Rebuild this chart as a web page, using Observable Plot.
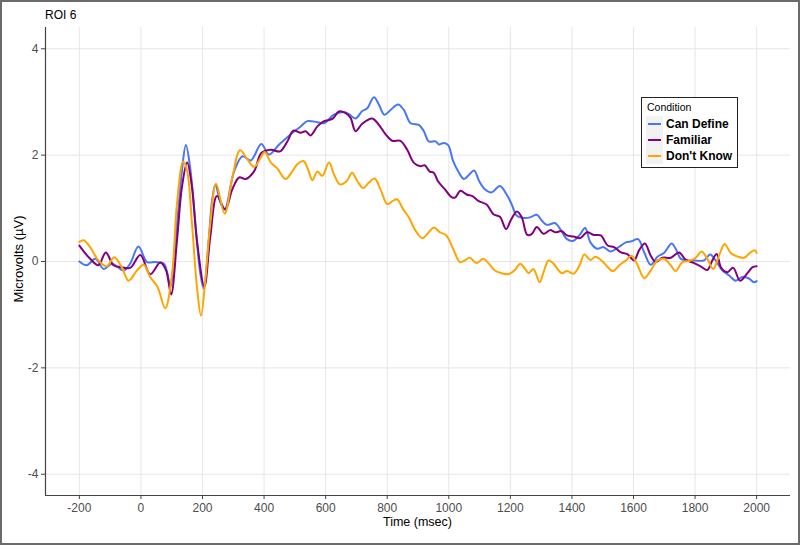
<!DOCTYPE html>
<html>
<head>
<meta charset="utf-8">
<script src="https://cdn.jsdelivr.net/npm/d3@7"></script>
<script src="https://cdn.jsdelivr.net/npm/@observablehq/plot@0.6"></script>
<style>
  html, body { margin: 0; padding: 0; background: #fff; }
  #wrap { position: relative; width: 800px; height: 545px; overflow: hidden; font-family: "Liberation Sans", Arial, sans-serif; }
  #wrap svg { position: absolute; left: 0; top: 0; }
  .border { position: absolute; left: 0; top: 0; width: 800px; height: 545px; box-sizing: border-box; border: 2px solid #6b6b6b; pointer-events: none; }
  .title { position: absolute; left: 45px; top: 8px; font-size: 12px; color: #000; }
  .xlab { position: absolute; left: 45px; width: 745px; top: 515px; text-align: center; font-size: 12.5px; color: #000; }
  .ylab { position: absolute; left: 18px; top: 259px; transform: translate(-50%, -50%) rotate(-90deg); white-space: nowrap; font-size: 13px; color: #000; }
  .legend { position: absolute; left: 641px; top: 97px; width: 97px; height: 71px; box-sizing: border-box; border: 1px solid #222; background: #fff; }
  .legend .lt { position: absolute; left: 5px; top: 3px; font-size: 10.5px; color: #000; }
  .legend .row { position: absolute; left: 4px; height: 16px; display: flex; align-items: center; }
  .legend .key { width: 17px; height: 16px; background: #f2f2f2; position: relative; }
  .legend .key i { position: absolute; left: 2px; right: 2px; top: 7px; height: 2px; }
  .legend .lab { margin-left: 3px; font-size: 12px; font-weight: bold; color: #000; }
</style>
</head>
<body>
<div id="wrap"></div>
<script>
// ---- data ----
const seriesNames = ["Can Define", "Familiar", "Don't Know"];
const seriesColors = ["#4876F5", "#800080", "#FFA500"];

const canDefineTime = [-200,-176,-148,-121,-94,-56,-35,-8,20,47,74,85,95,117,133,146,160,177,193,204,220,231,242,258,272,
  303,330,357,391,416,449,486,519,540,573,595,627,659,676,697,719,735,757,773,791,811,835,854,876,903,919,935,957,
  968,984,998,1014,1030,1049,1066,1082,1099,1117,1139,1166,1188,1204,1221,1242,1264,1286,1302,1318,1346,1362,1384,1405,1425,1443,1460,1482,1503,1525,
  1554,1575,1594,1615,1635,1656,1678,1699,1724,1737,1754,1775,1797,1829,1849,1867,1889,1910,1932,1953,1975,1991,2000];
const canDefineUv = [0,-0.07,0.05,-0.14,-0.04,-0.17,-0.04,0.28,-0.01,-0.01,-0.04,-0.2,-0.48,0.7,1.7,2.19,1.76,0.7,-0.23,-0.51,0.39,1.14,1.45,1.11,0.98,
  1.7,1.98,1.9,2.21,2.01,2.2,2.39,2.54,2.64,2.62,2.6,2.76,2.81,2.77,2.69,2.83,2.88,3.09,2.95,2.76,2.85,2.95,2.85,2.6,2.57,2.45,2.26,2.26,
  2.2,2.23,2.19,1.89,1.7,1.55,1.63,1.71,1.51,1.36,1.3,1.42,1.26,1.08,0.86,0.82,0.83,0.88,0.77,0.69,0.72,0.61,0.42,0.39,0.5,0.63,0.36,0.24,0.27,0.19,
  0.28,0.36,0.38,0.42,0.17,-0.06,0.09,0.16,0.34,0.24,0.05,0.02,0.02,0.02,0.13,0.02,-0.17,-0.26,-0.36,-0.29,-0.32,-0.39,-0.37];

const familiarTime = [-200,-165,-138,-114,-89,-62,-35,-2,30,63,82,98,117,133,150,166,182,206,225,247,274,
  297,319,340,368,391,422,452,476,495,519,535,551,573,595,622,643,665,681,697,719,751,773,795,816,843,865,886,908,922,938,951,
  965,987,1009,1020,1038,1058,1077,1096,1123,1145,1166,1186,1201,1221,1237,1255,1270,1286,1308,1329,1346,1367,1384,1405,1427,1449,1471,1494,1516,1537,
  1559,1580,1602,1618,1637,1656,1672,1694,1721,1748,1770,1797,1818,1840,1856,1870,1885,1905,1924,1946,1970,1986,2000];
const familiarUv = [0.3,0.05,-0.07,0.17,-0.07,-0.11,-0.12,0.12,-0.24,-0.02,-0.17,-0.62,0.39,1.39,1.86,1.39,0.39,-0.47,0.45,1.23,0.98,
  1.36,1.58,1.55,1.7,2.04,2.1,2.07,2.26,2.46,2.42,2.45,2.37,2.54,2.64,2.68,2.82,2.79,2.7,2.45,2.59,2.69,2.57,2.39,2.27,2.27,2.1,1.86,1.79,1.81,1.69,1.67,
  1.51,1.36,1.21,1.2,1.33,1.26,1.23,1.14,1.07,0.89,0.84,0.61,0.77,0.94,0.83,0.5,0.52,0.65,0.52,0.59,0.55,0.57,0.49,0.47,0.44,0.55,0.5,0.49,0.3,0.27,
  0.17,0.14,0.02,0.21,0.34,0.11,-0.01,0.07,0.07,0.17,0.03,-0.03,-0.09,-0.16,0.02,0.14,-0.12,-0.2,-0.12,-0.36,-0.22,-0.11,-0.09];

const dontKnowTime = [-200,-186,-165,-138,-111,-87,-62,-40,-13,9,30,54,79,101,117,137,150,166,182,195,209,225,244,272,
  297,322,346,368,389,402,422,443,470,492,508,528,543,557,573,589,611,627,646,668,686,703,722,740,759,778,800,816,832,852,870,892,914,935,
  952,971,992,1014,1036,1052,1068,1090,1112,1130,1150,1172,1193,1215,1232,1248,1259,1275,1295,1308,1324,1340,1367,1384,1405,1425,1440,1460,1476,1496,1514,1533,
  1554,1575,1594,1611,1635,1656,1678,1699,1721,1737,1759,1781,1802,1821,1840,1859,1878,1896,1916,1940,1959,1980,1994,2000];
const dontKnowUv = [0.37,0.4,0.27,0.02,-0.09,0.08,-0.11,-0.36,-0.17,-0.06,-0.29,-0.48,-0.88,-0.23,1.08,1.88,1.7,0.7,-0.48,-1.02,-0.36,0.7,1.46,0.9,
  1.58,2.09,1.92,1.78,1.95,2.06,1.86,1.75,1.55,1.7,1.83,1.89,1.73,1.53,1.69,1.61,1.86,1.64,1.45,1.51,1.67,1.51,1.38,1.48,1.56,1.36,1.08,1.13,1.17,0.98,0.83,0.58,0.44,0.55,
  0.64,0.55,0.49,0.24,-0.01,0.02,0.07,-0.03,0.05,-0.04,-0.17,-0.22,-0.24,-0.16,-0.04,-0.14,-0.22,-0.14,-0.39,-0.2,0.02,-0.04,-0.22,-0.18,-0.23,-0.07,0.13,0.03,0.09,0.02,-0.09,-0.18,
  -0.07,0.02,0.11,-0.04,-0.31,-0.17,0.02,0.05,-0.07,-0.18,-0.01,0.01,0.07,0.19,0.05,-0.14,0.11,0.33,0.16,0.09,0.07,0.17,0.21,0.16];

const xTicks = [-200,0,200,400,600,800,1000,1200,1400,1600,1800,2000];
const yTicks = [-4,-2,0,2,4];
const xDomain = [-310, 2110];
const yDomain = [-4.4, 4.4];

// ---- build table ----
const timeArrays = [canDefineTime, familiarTime, dontKnowTime];
const uvArrays = [canDefineUv, familiarUv, dontKnowUv];
const rows = [];
seriesNames.forEach((name, i) => {
  timeArrays[i].forEach((t, j) => rows.push({condition: name, time: t, uv: uvArrays[i][j]}));
});

const chart = Plot.plot({
  width: 800,
  height: 545,
  marginTop: 27,
  marginBottom: 50,
  marginLeft: 45,
  marginRight: 10,
  style: {fontFamily: "'Liberation Sans', Arial, sans-serif", background: "transparent"},
  x: {domain: xDomain},
  y: {domain: yDomain},
  color: {domain: seriesNames, range: seriesColors},
  marks: [
    Plot.gridX(xTicks, {stroke: "#e6e6e6", strokeOpacity: 1, strokeWidth: 1}),
    Plot.gridY(yTicks, {stroke: "#e6e6e6", strokeOpacity: 1, strokeWidth: 1}),
    Plot.ruleX([xDomain[0]], {stroke: "#444", strokeWidth: 1.2}),
    Plot.ruleY([yDomain[0]], {stroke: "#444", strokeWidth: 1.2}),
    Plot.line(rows, {x: "time", y: "uv", z: "condition", stroke: "condition", strokeWidth: 2, curve: "catmull-rom"}),
    Plot.axisX(xTicks, {tickSize: 4, tickPadding: 4, fontSize: 12, stroke: "#444", fill: "#4d4d4d", label: null, tickFormat: d => String(d)}),
    Plot.axisY(yTicks, {tickSize: 4, tickPadding: 3, fontSize: 12, stroke: "#444", fill: "#4d4d4d", label: null, tickFormat: d => String(d)})
  ]
});

const wrap = document.getElementById("wrap");
wrap.appendChild(chart);

const add = (cls, html) => { const d = document.createElement("div"); d.className = cls; d.innerHTML = html; wrap.appendChild(d); return d; };
add("title", "ROI 6");
add("xlab", "Time (msec)");
add("ylab", "Microvolts (µV)");
const leg = add("legend", '<div class="lt">Condition</div>');
seriesNames.forEach((name, i) => {
  const r = document.createElement("div");
  r.className = "row";
  r.style.top = (18 + i * 16) + "px";
  r.innerHTML = `<div class="key"><i style="background:${seriesColors[i]}"></i></div><div class="lab">${name}</div>`;
  leg.appendChild(r);
});
add("border", "");
</script>
</body>
</html>
